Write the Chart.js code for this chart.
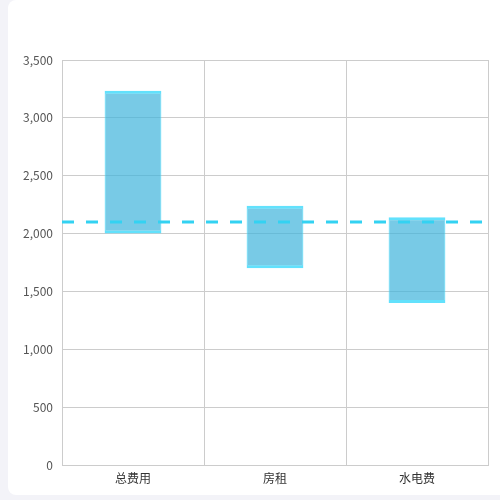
<!DOCTYPE html>
<html>
<head>
<meta charset="utf-8">
<script src="https://cdn.jsdelivr.net/npm/chart.js@4/dist/chart.umd.min.js"></script>
<style>
  html, body { margin: 0; padding: 0; background: #f3f3f8; width: 500px; height: 500px; overflow: hidden; }
  .card { position: absolute; left: 8px; top: 0; width: 510px; height: 495px; background: #fff; border-radius: 8px; }
  .box { position: absolute; left: 0; top: 0; width: 492px; height: 495px; }
</style>
</head>
<body>
<div class="card"><div class="box"><canvas id="feeChart"></canvas></div></div>
<script>
// --- Data ---
const categories = ["总费用", "房租", "水电费"];
const barLow = [2000, 1700, 1400];
const barHigh = [3235, 2240, 2140];
const refValue = 2100;
const yTicks = [0, 500, 1000, 1500, 2000, 2500, 3000, 3500];

const font = { family: "'Noto Sans CJK SC', 'Open Sans', sans-serif", size: 12 };
const gridColor = "#cccccc";

const ctx = document.getElementById("feeChart").getContext("2d");

new Chart(ctx, {
  data: {
    labels: categories,
    datasets: [
      {
        type: "bar",
        order: 1,
        data: categories.map((c, i) => [barLow[i], barHigh[i]]),
        backgroundColor: "rgba(62,179,219,0.7)",
        borderColor: "rgba(70,220,252,0.85)",
        borderWidth: { top: 3, bottom: 3, left: 1, right: 1 },
        borderSkipped: false,
        grouped: false,
        barPercentage: 0.4,
        categoryPercentage: 1,
        xAxisID: "x"
      },
      {
        type: "line",
        order: 0,
        data: [{ x: 0, y: refValue }, { x: 1, y: refValue }],
        borderColor: "#33d2f2",
        borderWidth: 3,
        borderDash: [12, 12],
        pointRadius: 0,
        xAxisID: "x2"
      }
    ]
  },
  options: {
    responsive: true,
    maintainAspectRatio: false,
    animation: false,
    layout: { padding: { top: 60, right: 12, left: 0, bottom: 0 } },
    plugins: { legend: { display: false }, tooltip: { enabled: false } },
    scales: {
      x: {
        type: "category",
        offset: true,
        grid: { color: gridColor, drawTicks: false, offset: true },
        border: { color: gridColor },
        ticks: { color: "#333", font, padding: 6 },
        afterFit: (s) => { s.height = 30; }
      },
      x2: {
        type: "linear",
        display: false,
        min: 0,
        max: 1
      },
      y: {
        min: 0,
        max: 3500,
        afterBuildTicks: (s) => { s.ticks = yTicks.map(v => ({ value: v })); },
        grid: { color: gridColor, drawTicks: false },
        border: { color: gridColor },
        ticks: { color: "#555", font, padding: 9, callback: (v) => v.toLocaleString("en-US") },
        afterFit: (s) => { s.width = 54; }
      }
    }
  }
});
</script>
</body>
</html>
